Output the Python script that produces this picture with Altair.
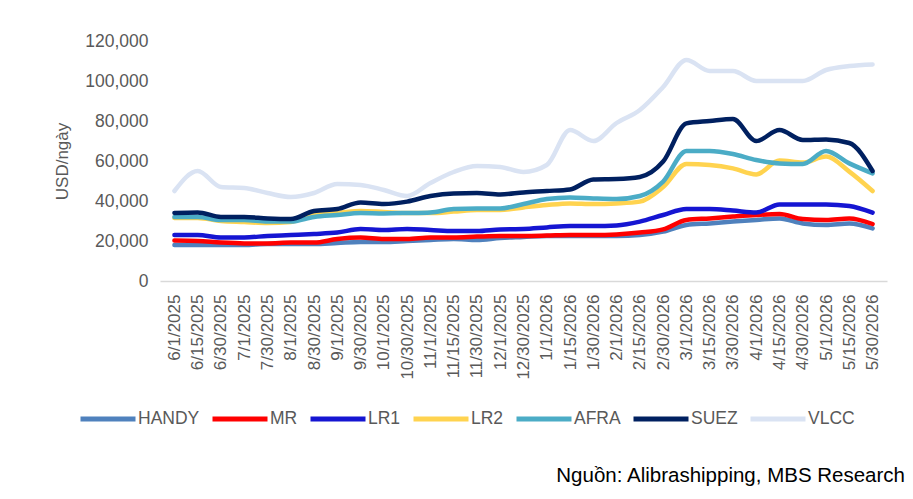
import pandas as pd
import altair as alt

dates = ['6/1/2025', '6/15/2025', '6/30/2025', '7/1/2025', '7/30/2025', '8/1/2025',
         '8/30/2025', '9/1/2025', '9/30/2025', '10/1/2025', '10/30/2025', '11/1/2025',
         '11/15/2025', '11/30/2025', '12/1/2025', '12/30/2025', '1/1/2026', '1/15/2026',
         '1/30/2026', '2/1/2026', '2/15/2026', '2/30/2026', '3/1/2026', '3/15/2026',
         '3/30/2026', '4/1/2026', '4/15/2026', '4/30/2026', '5/1/2026', '5/15/2026',
         '5/30/2026']

handy = [18000, 18000, 18000, 18000, 18500, 18500, 18500, 19000, 19500, 19500, 20000,
         20500, 21000, 20500, 21500, 22000, 22500, 22500, 22500, 22500, 23000, 24700,
         28000, 28800, 29700, 30500, 31300, 28800, 28000, 28800, 26300]
mr = [20200, 20000, 19200, 18800, 18800, 19200, 19200, 21000, 21700, 21000, 21000,
      21800, 21800, 22200, 22500, 22500, 22700, 23000, 23000, 23300, 24200, 25800,
      30500, 31300, 32200, 33000, 33500, 31000, 30500, 31300, 28500]
lr1 = [23000, 23000, 21800, 21800, 22500, 23000, 23500, 24200, 26000, 25500, 26000,
       25500, 25000, 25000, 25800, 26000, 26800, 27500, 27500, 27800, 29700, 33000,
       36000, 36000, 35200, 34200, 38300, 38300, 38300, 37500, 34200]
lr2 = [31500, 31500, 30000, 29500, 29000, 29500, 33500, 34000, 35000, 34500, 34000,
       34000, 34700, 35500, 35500, 36800, 38000, 38800, 38500, 38800, 39700, 47000,
       58500, 58000, 56300, 53300, 60200, 59200, 62200, 54700, 45000]
afra = [32000, 32000, 30500, 30500, 29700, 29700, 32000, 33000, 34000, 33800, 34000,
        34300, 36000, 36300, 36300, 38500, 41000, 41800, 41300, 41000, 42500, 49700,
        65000, 65000, 63500, 60500, 58800, 58500, 65000, 58800, 53800]
suez = [34000, 34300, 32000, 32000, 31300, 31000, 35000, 36000, 39300, 38500, 39700,
        42500, 43800, 44000, 43300, 44300, 45000, 45800, 50800, 51000, 52000, 59700,
        78800, 80000, 81000, 70000, 75500, 70500, 70800, 69000, 55000]
vlcc = [45000, 55000, 47000, 46500, 44000, 42000, 44000, 48500, 48000, 45500, 42500,
        49000, 54500, 57500, 57000, 54500, 58000, 75500, 70000, 79000, 85500, 97000,
        110500, 105000, 105000, 100000, 100000, 100000, 105500, 107500, 108300]

series = ['HANDY', 'MR', 'LR1', 'LR2', 'AFRA', 'SUEZ', 'VLCC']
colors = ['#4F81BD', '#FF0000', '#1515D2', '#FFD34F', '#4BACC6', '#002060', '#DAE3F3']
values = [handy, mr, lr1, lr2, afra, suez, vlcc]

df = pd.concat([
    pd.DataFrame({'date': dates, 'series': name, 'value': vals, 'order': k})
    for k, (name, vals) in enumerate(zip(series, values))
])

font = 'Liberation Sans'
grey = '#595959'

lines = (
alt.Chart(df)
.mark_line(interpolate='monotone', strokeWidth=4.5, strokeCap='round')
.encode(
    x=alt.X('date:O', sort=dates, title=None,
        scale=alt.Scale(type='point', padding=0.62),
        axis=alt.Axis(labelAngle=270, labelFontSize=17, labelColor=grey, labelFont=font,
                      labelPadding=13, ticks=False, domainColor='#d9d9d9', domainWidth=1.5,
                      labelOverlap=False)),
    y=alt.Y('value:Q', title='USD/ngày',
        scale=alt.Scale(domain=[0, 120000]),
        axis=alt.Axis(values=[0, 20000, 40000, 60000, 80000, 100000, 120000], format=',.0f',
                      grid=False, domain=False, ticks=False, labelPadding=12,
                      labelFontSize=17.5, labelColor=grey, labelFont=font,
                      titleFontSize=17, titleFont=font, titleColor=grey,
                      titleFontWeight='normal', titlePadding=13)),
    color=alt.Color('series:N', sort=series,
        scale=alt.Scale(domain=series, range=colors),
        legend=alt.Legend(title=None, orient='none', direction='horizontal',
                          legendX=-82, legendY=348, columns=7, symbolType='stroke',
                          symbolSize=3025, symbolStrokeWidth=5, labelOffset=0,
                          columnPadding=2, labelFontSize=17.5, labelColor=grey,
                          labelFont=font)),
    order='order:Q'))

source = (
alt.Chart(pd.DataFrame({'text': ['Nguồn: Alibrashipping, MBS Research']}))
.mark_text(align='right', baseline='alphabetic', fontSize=20.5, font=font, color='black')
.encode(text='text:N', x=alt.value(745), y=alt.value(441)))

chart = ((lines + source)
.properties(width=727, height=240,
    autosize=alt.AutoSizeParams(type='none'),
    padding={'left': 152, 'top': 33, 'right': 18, 'bottom': 210})
.configure_view(stroke=None)
)

chart.save("out.html", embed_options={"renderer": "svg", "actions": False})
